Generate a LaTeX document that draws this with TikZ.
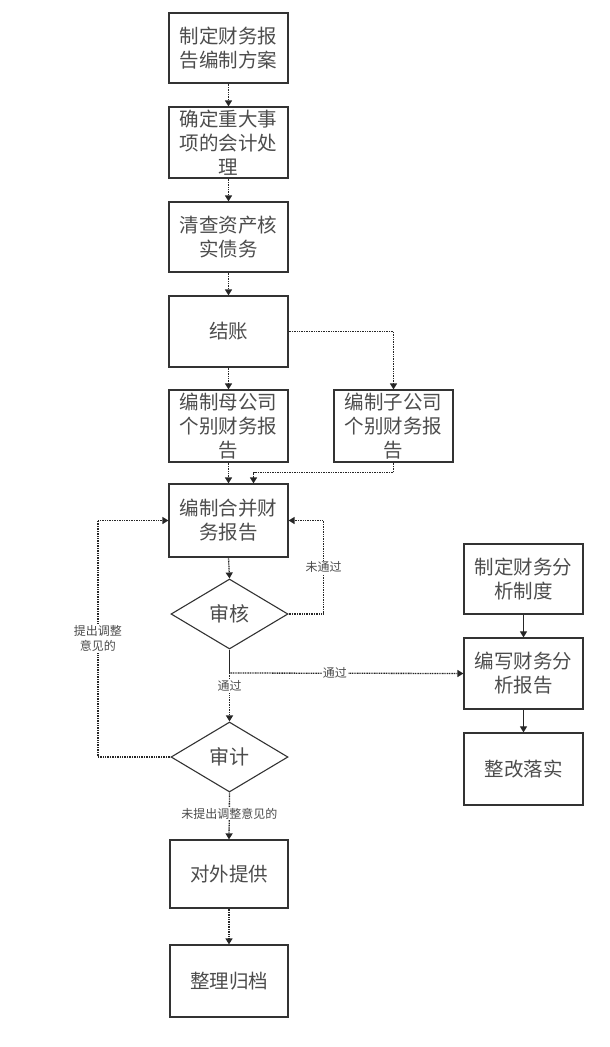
\documentclass[tikz,border=0pt]{standalone}
\usepackage{fontspec}
\newfontfamily\cjk{Noto Sans CJK SC}
\usetikzlibrary{shapes.geometric,arrows.meta}
\begin{document}
\begin{tikzpicture}[x=1pt,y=-1pt,
  every node/.style={font=\cjk},
  box/.style={draw=black!80,line width=1.2pt,minimum width=119pt,minimum height=70pt,inner sep=0pt,
     align=center,text=black!70,font=\cjk\fontsize{19.5}{24}\selectfont},
  dia/.style={draw=black!80,line width=1.1pt,shape=diamond,shape aspect=1.67,minimum width=117pt,minimum height=70pt,inner sep=0pt,
     text=black!70,font=\cjk\fontsize{20}{24}\selectfont},
  conn/.style={draw=black!85,line width=1.3pt,dash pattern=on 1pt off 0.7pt,-{Triangle[width=7pt,length=6pt]}},
  sconn/.style={draw=black!85,line width=1.1pt,-{Triangle[width=7pt,length=6pt]}},
  lab/.style={fill=white,inner sep=1pt,text=black!70,align=center,font=\cjk\fontsize{12}{15}\selectfont}]
\useasboundingbox (0,0) rectangle (610,1047);
\node[box] (b1) at (228.5,48) {制定财务报\\告编制方案};
\node[box,minimum height=71pt] (b2) at (228.5,142.5) {确定重大事\\项的会计处\\理};
\node[box] (b3) at (228.5,237) {清查资产核\\实债务};
\node[box,minimum height=71pt] (b4) at (228.5,331.5) {结账};
\node[box,minimum height=72pt] (b5) at (228.5,426) {编制母公司\\个别财务报\\告};
\node[box,minimum height=72pt] (b6) at (393.5,426) {编制子公司\\个别财务报\\告};
\node[box,minimum height=73pt] (b7) at (228.5,520.5) {编制合并财\\务报告};
\node[dia] (d1) at (229.5,614) {审核};
\node[dia] (d2) at (229.5,757) {审计};
\node[box,minimum width=118pt,minimum height=68pt] (b8) at (229,874) {对外提供};
\node[box,minimum width=118pt,minimum height=72pt] (b9) at (229,981) {整理归档};
\node[box] (r1) at (523.5,579) {制定财务分\\析制度};
\node[box,minimum height=71pt] (r2) at (523.5,673.5) {编写财务分\\析报告};
\node[box,minimum height=72pt] (r3) at (523.5,769) {整改落实};
\coordinate (split) at (229.5,673);
% main column
\draw[conn] (b1.south) -- (b2.north);
\draw[conn] (b2.south) -- (b3.north);
\draw[conn] (b3.south) -- (b4.north);
\draw[conn] (b4.south) -- (b5.north);
\draw[conn] (b4.east) -- (b4.east -| b6.north) -- (b6.north);
\draw[conn] (b5.south) -- (b5.south |- b7.north);
\draw[conn] (b6.south) -- ++(0,10) -| ([xshift=25pt]b7.north);
\draw[conn] (b7.south) -- (d1.north);
\draw[conn] (d1.east) -- ++(35,0) |- node[lab,pos=0.25] {未通过} (b7.east);
\draw[line width=1.3pt,draw=black!85] (d1.south) -- (split);
\draw[conn] (split) -- node[lab,pos=0.27] {通过} (d2.north);
\draw[conn] (split) -- node[lab,pos=0.45] {通过} (r2.west);
\draw[conn] (d2.west) -- ++(-72.5,0) |- node[lab,pos=0.25] {提出调整\\意见的} (b7.west);
\draw[conn] (d2.south) -- node[lab,pos=0.45] {未提出调整意见的} (b8.north);
\draw[conn] (b8.south) -- (b9.north);
% right column
\draw[sconn] (r1.south) -- (r2.north);
\draw[sconn] (r2.south) -- (r3.north);
\end{tikzpicture}
\end{document}
